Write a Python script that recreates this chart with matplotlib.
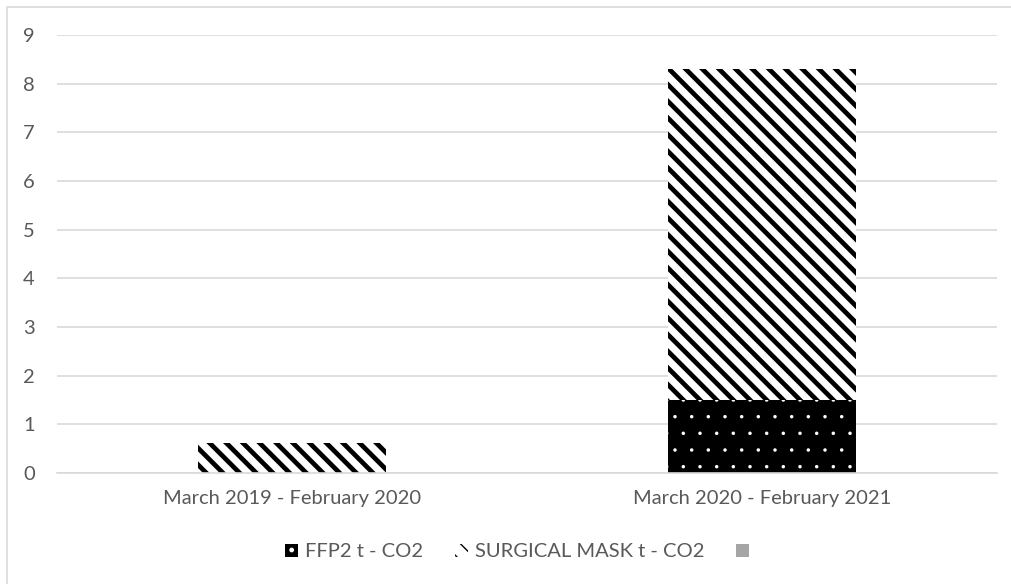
import numpy as np
import matplotlib
matplotlib.use("Agg")
import matplotlib.pyplot as plt
from matplotlib.patches import Patch, Rectangle

periods = ["March 2019 - February 2020", "March 2020 - February 2021"]
ffp2 = [0.0, 1.5]
surgical = [0.61, 6.8]
other = [0.0, 0.0]
series_labels = ["FFP2 t - CO2", "SURGICAL MASK t - CO2", ""]

text_color = "#595959"
grid_color = "#d9d9d9"
other_color = "#a5a5a5"

plt.rcParams["font.family"] = ["Lato", "DejaVu Sans"]
plt.rcParams["font.size"] = 14.5

fig = plt.figure(figsize=(10.11, 5.84), dpi=100)
ax = fig.add_axes([57 / 1011, 1 - 473 / 584, 940 / 1011, 438 / 584])

x = np.arange(len(periods))
width = 0.4

dot_lw = 0.1
stripe_lw = 3.4

with plt.rc_context({"hatch.linewidth": dot_lw}):
    b1 = ax.bar(x, ffp2, width, color="black", edgecolor="white",
                linewidth=0, hatch=".", label=series_labels[0])
with plt.rc_context({"hatch.linewidth": stripe_lw}):
    b2 = ax.bar(x, surgical, width, bottom=ffp2, color="white", edgecolor="black",
                linewidth=0, hatch="\\\\", label=series_labels[1])
bottom3 = np.array(ffp2) + np.array(surgical)
b3 = ax.bar(x, other, width, bottom=bottom3, color=other_color, linewidth=0)

ax.set_xlim(-0.5, len(periods) - 0.5)
ax.set_ylim(0, 9)
ax.set_yticks(range(0, 10))
ax.set_xticks(x)
ax.set_xticklabels(periods)
ax.tick_params(length=0, colors=text_color, labelsize=14.5)
ax.tick_params(axis="y", pad=16)
ax.tick_params(axis="x", pad=12)
ax.yaxis.grid(True, color=grid_color, linewidth=1.2)
ax.set_axisbelow(True)
for side in ["left", "right", "top"]:
    ax.spines[side].set_visible(False)
ax.spines["bottom"].set_color(grid_color)
ax.spines["bottom"].set_linewidth(1.2)

with plt.rc_context({"hatch.linewidth": dot_lw}):
    h1 = Patch(facecolor="black", edgecolor="white", linewidth=0, hatch=".")
with plt.rc_context({"hatch.linewidth": stripe_lw}):
    h2 = Patch(facecolor="white", edgecolor="black", linewidth=0, hatch="\\\\")
h3 = Patch(facecolor=other_color, linewidth=0)

fig.legend([h1, h2, h3], series_labels, loc="center", bbox_to_anchor=(0.515, 0.055),
           ncol=3, frameon=False, handlelength=0.62, handleheight=0.62,
           handletextpad=0.35, columnspacing=1.6, labelcolor=text_color, fontsize=14.5)

# outer chart border
fig.patches.append(Rectangle((7 / 1011, -0.01), 1.02, 1 - 7 / 584 + 0.01,
                             transform=fig.transFigure, fill=False,
                             edgecolor=grid_color, linewidth=1.2))

fig.savefig("out.png", dpi=100)
